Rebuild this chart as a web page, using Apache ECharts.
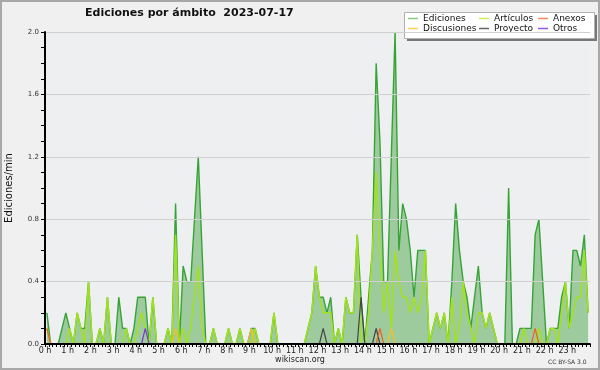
<!DOCTYPE html>
<html><head><meta charset="utf-8">
<script src="https://cdn.jsdelivr.net/npm/echarts@6/dist/echarts.min.js"></script>
<style>html,body{margin:0;padding:0;background:#f0f0f0}#c{width:600px;height:370px}</style>
</head><body><div id="c"></div>
<script>
// 10-minute slots (minutes after midnight, slot centre)
const slotMinutes = [];
for (let i = 0; i < 144; i++) slotMinutes.push(10 * i + 5);

const hourTicks = ['0 h','1 h','2 h','3 h','4 h','5 h','6 h','7 h','8 h','9 h','10 h','11 h','12 h','13 h','14 h','15 h','16 h','17 h','18 h','19 h','20 h','21 h','22 h','23 h'];

const ediciones = [
0.2,0,0,0,0.1,0.2,0.1,0,0.2,0.1,
0.1,0.4,0,0,0.1,0,0.3,0,0,0.3,
0.1,0.1,0,0.1,0.3,0.3,0.3,0,0.3,0,
0,0,0.1,0,0.9,0,0.5,0.4,0.4,0.8,
1.2,0.6,0,0,0.1,0,0,0,0.1,0,
0,0.1,0,0,0.1,0.1,0,0,0,0,
0.2,0,0,0,0,0,0,0,0,0.1,
0.2,0.5,0.3,0.3,0.2,0.3,0,0.1,0,0.3,
0.2,0.2,0.7,0.3,0,0.3,0.6,1.8,1.3,0.4,
0.4,1.2,2.0,0.6,0.9,0.8,0.6,0.3,0.6,0.6,
0.6,0,0.1,0.2,0.1,0.2,0,0.4,0.9,0.6,
0.4,0.3,0.1,0.3,0.5,0.2,0.1,0.2,0.1,0,
0,0,1.0,0,0,0.1,0.1,0.1,0.1,0.7,
0.8,0.4,0,0.1,0.1,0.1,0.3,0.4,0.1,0.6,
0.6,0.5,0.7,0.2];

const articulos = [
0.1,0,0,0,0,0,0.1,0,0.2,0.1,
0,0.4,0,0,0.1,0,0.3,0,0,0,
0,0.1,0,0,0.1,0.2,0.1,0,0.3,0,
0,0,0.1,0,0.7,0,0.1,0,0.1,0.3,
0.5,0.1,0,0,0.1,0,0,0,0.1,0,
0,0.1,0,0,0,0.1,0,0,0,0,
0.2,0,0,0,0,0,0,0,0,0.1,
0.2,0.5,0.3,0.2,0.2,0.2,0,0.1,0,0.3,
0.2,0.2,0.7,0,0,0.2,0.6,1.1,0.6,0.2,
0.4,0.1,0.6,0.4,0.3,0.3,0.2,0.3,0.2,0.3,
0.6,0,0.1,0.2,0.1,0.2,0,0.3,0,0.1,
0.4,0.2,0.1,0,0.2,0.2,0.1,0.2,0.1,0,
0,0,0,0,0,0,0.1,0,0,0,
0.1,0,0,0.1,0.1,0,0.2,0.4,0.1,0.2,
0.3,0.3,0.6,0.2];

// sparse series: slot index -> value
const discusionesPts = {34:0.1, 54:0.1, 91:0.1};
const anexosPts = {0:0.1, 88:0.1, 129:0.1};
const proyectoPts = {73:0.1, 83:0.3, 87:0.1};
const otrosPts = {26:0.1};

function dense(arr){ return arr.map((v,i)=>[slotMinutes[i], v]); }
function sparse(obj){ return slotMinutes.map((m,i)=>[m, obj[i] !== undefined ? obj[i] : 0]); }

const chart = echarts.init(document.getElementById('c'), null, {renderer:'canvas'});
const F = '"DejaVu Sans", sans-serif';
const legendCommon = {orient:'vertical', top:14, padding:0, itemGap:1, itemWidth:10, itemHeight:1.5, icon:'rect',
  selectedMode:false, textStyle:{fontSize:9, fontFamily:F, color:'#111', lineHeight:9}};

chart.setOption({
  backgroundColor:'#f0f0f0',
  animation:false,
  grid:{left:45, right:10, top:32, bottom:26, show:true, backgroundColor:'#eeeff1', borderWidth:0,
    containLabel:false, outerBoundsMode:'none'},
  graphic:[
    {type:'rect', shape:{x:1, y:1, width:598, height:368}, style:{fill:'none', stroke:'#a8a8a8', lineWidth:2}, z:100},
    {type:'text', left:85, top:8, style:{text:'Ediciones por ámbito  2023-07-17', font:'bold 11px "DejaVu Sans", sans-serif', fill:'#111'}},
    {type:'text', left:'center', top:356, style:{text:'wikiscan.org', font:'8px "DejaVu Sans", sans-serif', fill:'#222'}},
    {type:'text', left:548, top:359, style:{text:'CC BY-SA 3.0', font:'6px "DejaVu Sans", sans-serif', fill:'#333'}},
    {type:'rect', shape:{x:407, y:15, width:190, height:26}, style:{fill:'#777'}, z:1},
    {type:'rect', shape:{x:404.5, y:12.5, width:190, height:26}, style:{fill:'#fff', stroke:'#b0b0b0', lineWidth:1}, z:2}
  ],
  legend:[
    Object.assign({left:408, data:[{name:'Ediciones', itemStyle:{color:'#88cc88'}}, {name:'Discusiones', itemStyle:{color:'#ffd050'}}]}, legendCommon),
    Object.assign({left:479, data:[{name:'Artículos', itemStyle:{color:'#ccee55'}}, {name:'Proyecto', itemStyle:{color:'#666666'}}]}, legendCommon),
    Object.assign({left:538, data:[{name:'Anexos', itemStyle:{color:'#ff8855'}}, {name:'Otros', itemStyle:{color:'#9955ee'}}]}, legendCommon)
  ],
  xAxis:{type:'value', min:0, max:1440, interval:60, z:10,
    axisLine:{lineStyle:{color:'#000', width:2}},
    axisTick:{show:true, length:3, lineStyle:{color:'#000'}},
    minorTick:{show:true, splitNumber:6, length:3, lineStyle:{color:'#000'}},
    splitLine:{show:false},
    axisLabel:{fontSize:8, fontFamily:F, color:'#222', margin:3, showMaxLabel:false,
      formatter:v => { const h = Math.round(v/60); return h < hourTicks.length ? hourTicks[h] : ''; }}
  },
  yAxis:{type:'value', min:0, max:2.0, interval:0.4, z:10,
    name:'Ediciones/min', nameLocation:'middle', nameGap:31, nameRotate:90,
    nameTextStyle:{fontSize:10, fontFamily:F, color:'#111'},
    axisLine:{show:true, lineStyle:{color:'#000', width:2}},
    axisTick:{show:true, length:4, lineStyle:{color:'#000'}},
    minorTick:{show:true, splitNumber:4, length:4, lineStyle:{color:'#000'}},
    splitLine:{lineStyle:{color:'#cfcfcf', width:1}},
    axisLabel:{fontSize:7, fontFamily:F, color:'#333', margin:6, formatter:v => v.toFixed(1)}
  },
  series:[
    {name:'Ediciones', type:'line', data:dense(ediciones), symbol:'none', color:'#3fa83f',
      lineStyle:{color:'#37a337', width:1.4}, areaStyle:{color:'#9ecb9e', opacity:1}, z:2},
    {name:'Artículos', type:'line', data:dense(articulos), symbol:'none', color:'#a2e21c',
      lineStyle:{color:'#a2e21c', width:1.5}, z:3},
    {name:'Discusiones', type:'line', data:sparse(discusionesPts), symbol:'none', color:'#f5c020',
      lineStyle:{color:'#f5c020', width:1.2}, z:4},
    {name:'Proyecto', type:'line', data:sparse(proyectoPts), symbol:'none', color:'#444',
      lineStyle:{color:'#444', width:1.2}, z:4},
    {name:'Anexos', type:'line', data:sparse(anexosPts), symbol:'none', color:'#f06020',
      lineStyle:{color:'#f06020', width:1.2}, z:4},
    {name:'Otros', type:'line', data:sparse(otrosPts), symbol:'none', color:'#8030e0',
      lineStyle:{color:'#8030e0', width:1.2}, z:4}
  ]
});
</script></body></html>
